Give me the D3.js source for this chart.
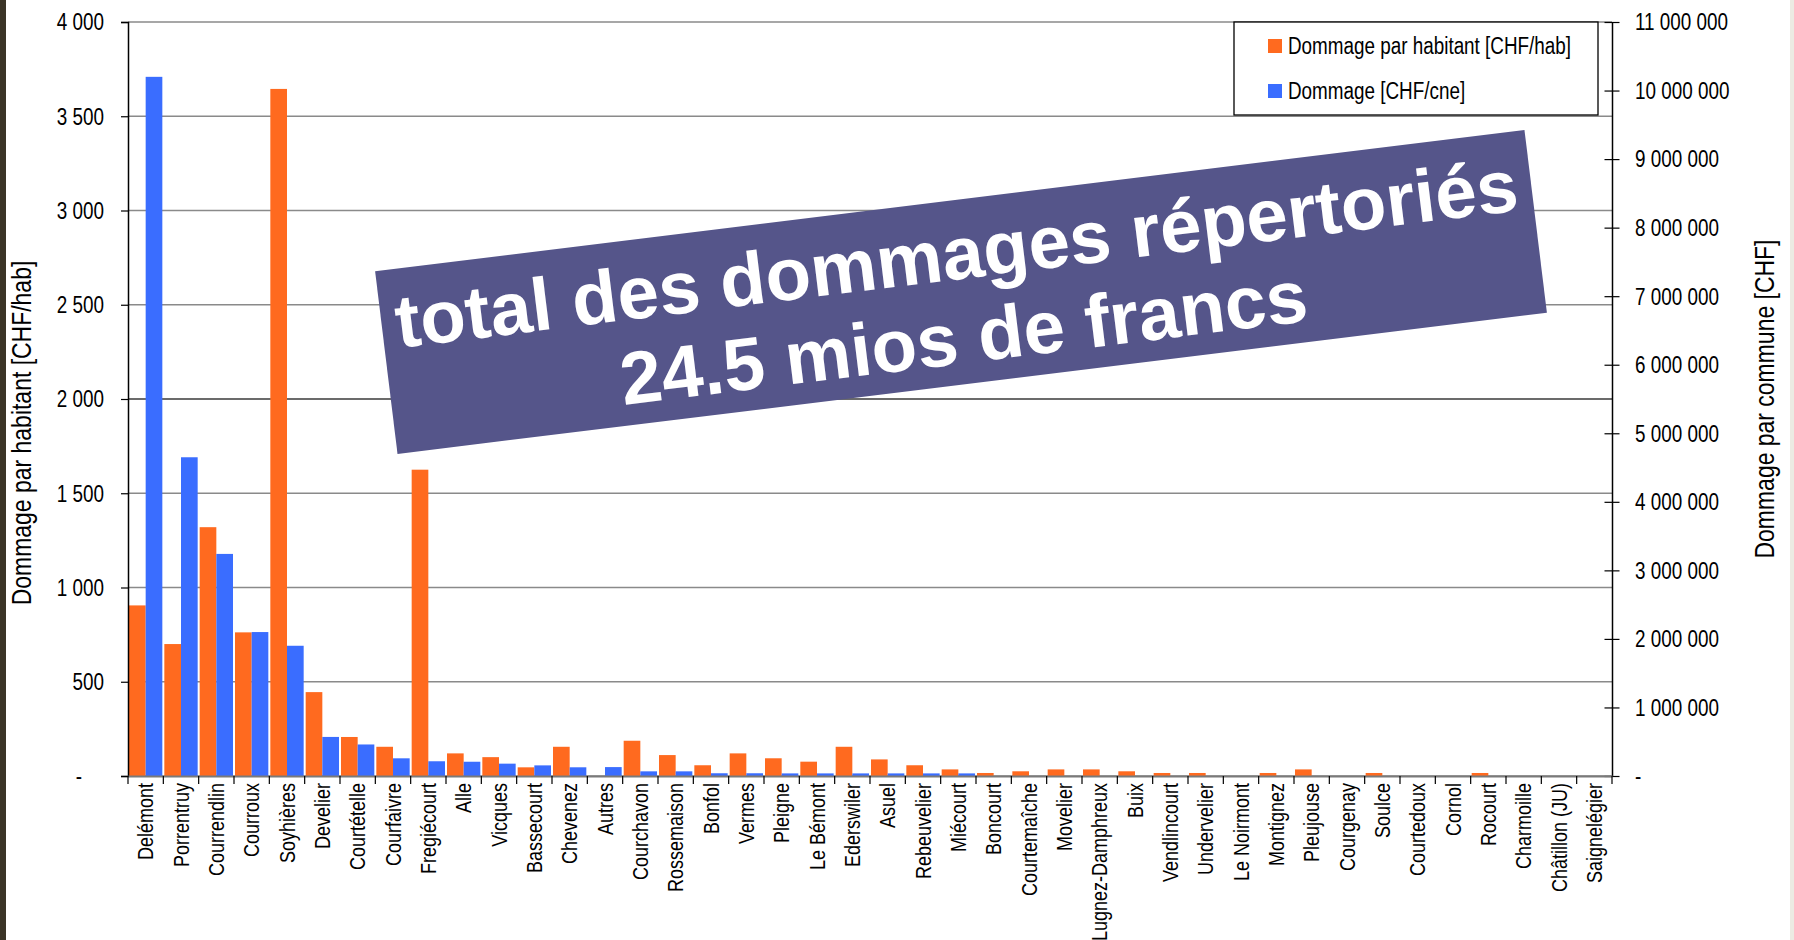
<!DOCTYPE html>
<html>
<head>
<meta charset="utf-8">
<script src="https://cdn.jsdelivr.net/npm/d3@7"></script>
<style>
  body { margin: 0; background: #fff; }
  text { font-family: "Liberation Sans", Arial, sans-serif; fill: #000; }
</style>
</head>
<body>
<div class="chart"></div>
<script>
var communes = ["Delémont", "Porrentruy", "Courrendlin", "Courroux", "Soyhières", "Develier", "Courtételle",
  "Courfaivre", "Fregiécourt", "Alle", "Vicques", "Bassecourt", "Chevenez", "Autres", "Courchavon",
  "Rossemaison", "Bonfol", "Vermes", "Pleigne", "Le Bémont", "Ederswiler", "Asuel", "Rebeuvelier",
  "Miécourt", "Boncourt", "Courtemaîche", "Movelier", "Lugnez-Damphreux", "Buix", "Vendlincourt",
  "Undervelier", "Le Noirmont", "Montignez", "Pleujouse", "Courgenay", "Soulce", "Courtedoux",
  "Cornol", "Rocourt", "Charmoille", "Châtillon (JU)", "Saignelégier"];

// Dommage par habitant [CHF/hab] (axe de gauche)
var parHabitant = [905, 700, 1320, 762, 3645, 445, 207, 155, 1625, 120, 100, 46, 155, 0, 187,
  111, 57, 120, 94, 76, 155, 88, 57, 35, 16, 25, 35, 35, 25, 16,
  16, 0, 16, 35, 0, 16, 0, 0, 16, 0, 0, 0];

// Dommage [CHF/cne] (axe de droite)
var parCommune = [10200000, 4650000, 3240000, 2100000, 1900000, 570000, 460000, 258000, 215000, 208000,
  180000, 155000, 127000, 130000, 68000, 68000, 40000, 40000, 38000, 38000, 38000, 38000, 38000, 38000,
  0, 0, 0, 0, 0, 0, 0, 0, 0, 0, 0, 0, 0, 0, 0, 0, 0, 0];

var leftTicks = [0, 500, 1000, 1500, 2000, 2500, 3000, 3500, 4000];
var rightTicks = [0, 1000000, 2000000, 3000000, 4000000, 5000000, 6000000, 7000000, 8000000, 9000000, 10000000, 11000000];
var legendLabels = ["Dommage par habitant [CHF/hab]", "Dommage [CHF/cne]"];
var bannerLines = ["total des dommages répertoriés", "24.5 mios de francs"];

var svgWidth = 1794;
var svgHeight = 940;
var margin = {top: 22, right: 182, bottom: 164, left: 128};
var width = svgWidth - margin.left - margin.right;
var height = svgHeight - margin.top - margin.bottom;

var orange = "#ff6a1f";
var blue = "#3a6dff";

// pas de police étroite installée : on resserre le texte à la main
function narrow(sel, k) {
  sel.each(function() {
    var len = this.getComputedTextLength();
    d3.select(this).attr("textLength", len * k).attr("lengthAdjust", "spacingAndGlyphs");
  });
}

var svg = d3.select(".chart")
  .append("svg")
  .attr("width", svgWidth)
  .attr("height", svgHeight);

// bords de la capture
svg.append("rect").attr("x", 0).attr("y", 0).attr("width", 6).attr("height", svgHeight).attr("fill", "#3b3427");
svg.append("rect").attr("x", 1790).attr("y", 0).attr("width", 4).attr("height", svgHeight).attr("fill", "#ecebe3");

var chartGroup = svg.append("g")
  .attr("transform", `translate(${margin.left},${margin.top})`);

var xScale = d3.scaleBand()
  .domain(communes)
  .range([0, width]);

var yLeft = d3.scaleLinear().domain([0, 4000]).range([height, 0]);
var yRight = d3.scaleLinear().domain([0, 11000000]).range([height, 0]);

var fmt = function(d) {
  return d === 0 ? "-" : d3.format(",")(d).replace(/,/g, " ");
};

// grille
chartGroup.append("g")
  .selectAll("line")
  .data(leftTicks)
  .enter()
  .append("line")
  .attr("x1", 0)
  .attr("x2", width)
  .attr("y1", d => yLeft(d))
  .attr("y2", d => yLeft(d))
  .attr("stroke", d => d === 2000 ? "#3a3a3a" : "#8a8a8a")
  .attr("stroke-width", 1.5);

// barres
var groups = chartGroup.selectAll(".grp")
  .data(communes)
  .enter()
  .append("g")
  .attr("transform", d => `translate(${xScale(d)},0)`);

var bw = (xScale.bandwidth() - 2) / 2;

groups.append("rect")
  .attr("x", 1)
  .attr("width", bw)
  .attr("y", (d, i) => yLeft(parHabitant[i]))
  .attr("height", (d, i) => height - yLeft(parHabitant[i]))
  .attr("fill", orange);

groups.append("rect")
  .attr("x", 1 + bw)
  .attr("width", bw)
  .attr("y", (d, i) => yRight(parCommune[i]))
  .attr("height", (d, i) => height - yRight(parCommune[i]))
  .attr("fill", blue);

// axes
var leftAxis = d3.axisLeft(yLeft).tickValues(leftTicks).tickFormat(fmt).tickSize(7).tickPadding(17);
var rightAxis = d3.axisRight(yRight).tickValues(rightTicks).tickFormat(fmt).tickSize(0).tickPadding(23);
var bottomAxis = d3.axisBottom(xScale).tickSize(0).tickFormat("");

var gl = chartGroup.append("g").call(leftAxis);
gl.select(".domain").attr("stroke", "#000").attr("stroke-width", 1.5);
gl.selectAll(".tick line").attr("stroke", "#000").attr("stroke-width", 1.2);
gl.selectAll("text").style("font-size", "23px").attr("dy", "0.34em");
gl.selectAll(".tick text").filter(d => d === 0).attr("x", -46);
narrow(gl.selectAll("text"), 0.82);

var gr = chartGroup.append("g").attr("transform", `translate(${width},0)`).call(rightAxis);
gr.select(".domain").attr("stroke", "#000").attr("stroke-width", 1.5);
gr.selectAll(".tick").append("line")
  .attr("x1", -7.5).attr("x2", 7.5)
  .attr("stroke", "#000").attr("stroke-width", 1.2);
gr.selectAll("text").style("font-size", "23px").attr("dy", "0.34em");
narrow(gr.selectAll("text"), 0.82);

var gb = chartGroup.append("g").attr("transform", `translate(0,${height})`).call(bottomAxis);
gb.select(".domain").attr("stroke", "#7a7a7a").attr("stroke-width", 2);

// graduations entre les communes
gb.selectAll(".sep")
  .data(communes.concat(["fin"]))
  .enter()
  .append("line")
  .attr("x1", (d, i) => i * xScale.step())
  .attr("x2", (d, i) => i * xScale.step())
  .attr("y1", 0)
  .attr("y2", 8)
  .attr("stroke", "#000")
  .attr("stroke-width", 1.2);

// noms des communes
var labels = gb.selectAll(".lbl")
  .data(communes)
  .enter()
  .append("text")
  .attr("transform", d => `translate(${xScale(d) + xScale.bandwidth() / 2},7) rotate(-90)`)
  .attr("dy", "0.34em")
  .attr("text-anchor", "end")
  .style("font-size", "22.5px")
  .text(d => d);
narrow(labels, 0.8);

// titres des axes
var t1 = svg.append("text")
  .attr("transform", "translate(31,433) rotate(-90)")
  .attr("text-anchor", "middle")
  .style("font-size", "28px")
  .text("Dommage par habitant [CHF/hab]");

var t2 = svg.append("text")
  .attr("transform", "translate(1774,399) rotate(-90)")
  .attr("text-anchor", "middle")
  .style("font-size", "28px")
  .text("Dommage par commune [CHF]");
narrow(t1, 0.82);
narrow(t2, 0.82);

// légende
var legend = svg.append("g").attr("transform", "translate(1234,22)");
legend.append("rect")
  .attr("width", 364).attr("height", 93)
  .attr("fill", "#fff").attr("stroke", "#000").attr("stroke-width", 1.3);
legend.selectAll(".item")
  .data(legendLabels)
  .enter()
  .append("g")
  .attr("transform", (d, i) => `translate(34,${17 + i * 45})`)
  .each(function(d, i) {
    var g = d3.select(this);
    g.append("rect").attr("width", 14).attr("height", 14).attr("fill", i === 0 ? orange : blue);
    var t = g.append("text").attr("x", 20).attr("y", 15).style("font-size", "23px").text(d);
    narrow(t, 0.82);
  });

// bandeau
var banner = svg.append("g").attr("transform", "translate(961,292) rotate(-7)");
banner.append("rect")
  .attr("x", -579).attr("y", -92)
  .attr("width", 1158).attr("height", 184)
  .attr("fill", "#55558a");
banner.selectAll(".bl")
  .data(bannerLines)
  .enter()
  .append("text")
  .attr("x", (d, i) => i === 0 ? 0 : -3)
  .attr("y", (d, i) => i === 0 ? -13 : 71)
  .attr("text-anchor", "middle")
  .style("font-weight", "bold")
  .style("font-size", "74.5px")
  .style("fill", "#fff")
  .text(d => d);
</script>
</body>
</html>
